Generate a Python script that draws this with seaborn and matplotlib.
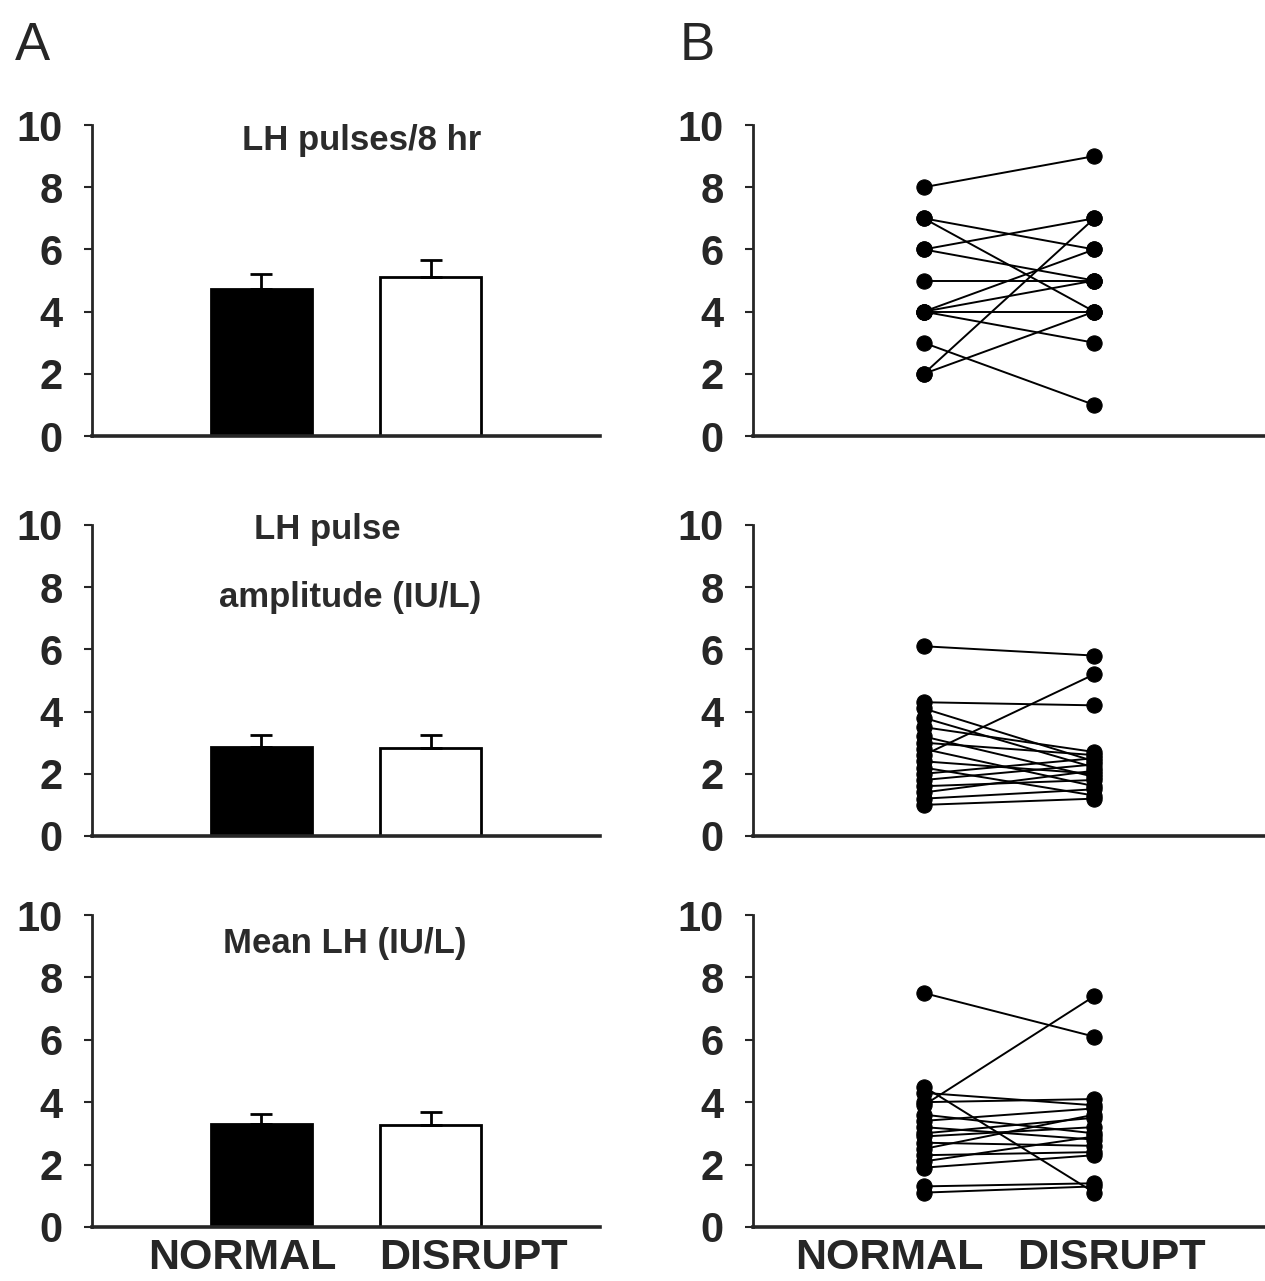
import numpy as np
import pandas as pd
import seaborn as sns
import matplotlib.pyplot as plt

# groups and bar values (mean, upper SEM)
groups = ['NORMAL', 'DISRUPT']
pulses_mean = [4.73, 5.11]
pulses_sem = [0.48, 0.55]
amp_mean = [2.86, 2.83]
amp_sem = [0.39, 0.42]
meanlh_mean = [3.30, 3.27]
meanlh_sem = [0.32, 0.42]

# paired individual values for panel B (normal, disrupt)
pulses_normal = [8, 7, 7, 6, 6, 5, 4, 4, 4, 4, 3, 2, 2]
pulses_disrupt = [9, 6, 4, 7, 5, 5, 6, 5, 4, 3, 1, 7, 4]

amp_normal = [6.1, 4.3, 2.6, 4.1, 3.8, 3.5, 3.2, 3.0, 2.8, 2.4, 2.2, 2.0, 1.8, 1.6, 1.4, 1.2, 1.0]
amp_disrupt = [5.8, 4.2, 5.2, 2.4, 2.2, 2.7, 1.9, 2.6, 1.6, 2.0, 1.3, 2.5, 2.3, 1.8, 2.1, 1.5, 1.2]

meanlh_normal = [7.5, 3.9, 4.5, 4.3, 4.0, 3.6, 3.4, 3.2, 3.0, 2.9, 2.7, 2.5, 2.3, 2.1, 1.9, 1.3, 1.1]
meanlh_disrupt = [6.1, 7.4, 1.1, 3.9, 4.1, 3.0, 3.8, 2.8, 3.5, 3.2, 2.6, 3.6, 2.4, 2.9, 2.3, 1.4, 1.3]

titles = [['LH pulses/8 hr'], ['LH pulse', 'amplitude (IU/L)'], ['Mean LH (IU/L)']]
title_pos = [[(0.53, 0.95)], [(0.463, 0.984), (0.508, 0.768)], [(0.498, 0.91)]]

sns.set_style('ticks')
plt.rcParams['font.family'] = ['Liberation Sans', 'DejaVu Sans']

fig = plt.figure(figsize=(12.65, 12.81), dpi=100)

rows = [(0.6596, 0.2428), (0.3474, 0.2428), (0.0422, 0.2435)]
bar_data = [(pulses_mean, pulses_sem), (amp_mean, amp_sem), (meanlh_mean, meanlh_sem)]
pair_data = [(pulses_normal, pulses_disrupt), (amp_normal, amp_disrupt), (meanlh_normal, meanlh_disrupt)]


def style_axis(ax):
    ax.set_ylim(0, 10)
    ax.set_xlim(-1, 2)
    ax.set_yticks(range(0, 11, 2))
    ax.set_xticks([])
    ax.set_xlabel('')
    ax.set_ylabel('')
    sns.despine(ax=ax)
    ax.spines['left'].set_linewidth(2.0)
    ax.spines['bottom'].set_linewidth(2.6)
    ax.tick_params(axis='y', length=6, width=1.5, pad=15, labelsize=30)
    for lab in ax.get_yticklabels():
        lab.set_fontweight('bold')


for i, (bottom, height) in enumerate(rows):
    # panel A: bars with upper SEM
    axA = fig.add_axes([0.0727, bottom, 0.4016, height])
    means, sems = bar_data[i]
    sns.barplot(x=groups, y=means, hue=groups, palette=['black', 'white'],
                edgecolor='black', linewidth=2, width=0.6, errorbar=None,
                legend=False, ax=axA)
    axA.errorbar([0, 1], means, yerr=[[0, 0], sems], fmt='none', ecolor='black',
                 elinewidth=2, capsize=8, capthick=2, zorder=1)
    style_axis(axA)
    for txt, (tx, ty) in zip(titles[i], title_pos[i]):
        axA.text(tx, ty, txt, transform=axA.transAxes, ha='center', va='center',
                 fontsize=25, fontweight='bold', color='#2b2b2b')

    # panel B: paired subjects
    axB = fig.add_axes([0.5953, bottom, 0.4047, height])
    normal, disrupt = pair_data[i]
    n = len(normal)
    df = pd.DataFrame({
        'subject': list(range(n)) * 2,
        'cond': [0] * n + [1] * n,
        'value': normal + disrupt,
    })
    sns.lineplot(data=df, x='cond', y='value', units='subject', estimator=None,
                 color='black', marker='o', markersize=11, markeredgecolor='black',
                 linewidth=1.4, ax=axB)
    style_axis(axB)

    if i == 2:
        for ax, xs in [(axA, (-0.11, 1.25)), (axB, (-0.20, 1.10))]:
            for g, x in zip(groups, xs):
                ax.text(x, -0.1, g, transform=ax.get_xaxis_transform(), ha='center',
                        va='center', fontsize=31, fontweight='bold', clip_on=False)

fig.text(0.012, 0.953, 'A', fontsize=38, ha='left', va='baseline')
fig.text(0.5375, 0.953, 'B', fontsize=38, ha='left', va='baseline')

fig.savefig('out.png', dpi=100, facecolor='white')
